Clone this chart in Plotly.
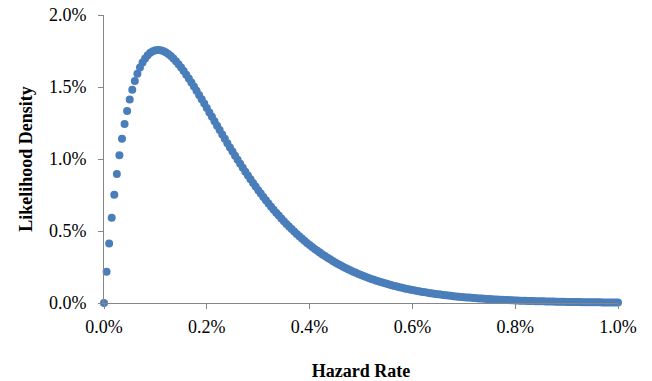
import plotly.graph_objects as go

# Hazard rate (%), 0.005% steps
hazard_rate = [
    0.000, 0.005, 0.010, 0.015, 0.020, 0.025, 0.030, 0.035, 0.040, 0.045,
    0.050, 0.055, 0.060, 0.065, 0.070, 0.075, 0.080, 0.085, 0.090, 0.095,
    0.100, 0.105, 0.110, 0.115, 0.120, 0.125, 0.130, 0.135, 0.140, 0.145,
    0.150, 0.155, 0.160, 0.165, 0.170, 0.175, 0.180, 0.185, 0.190, 0.195,
    0.200, 0.205, 0.210, 0.215, 0.220, 0.225, 0.230, 0.235, 0.240, 0.245,
    0.250, 0.255, 0.260, 0.265, 0.270, 0.275, 0.280, 0.285, 0.290, 0.295,
    0.300, 0.305, 0.310, 0.315, 0.320, 0.325, 0.330, 0.335, 0.340, 0.345,
    0.350, 0.355, 0.360, 0.365, 0.370, 0.375, 0.380, 0.385, 0.390, 0.395,
    0.400, 0.405, 0.410, 0.415, 0.420, 0.425, 0.430, 0.435, 0.440, 0.445,
    0.450, 0.455, 0.460, 0.465, 0.470, 0.475, 0.480, 0.485, 0.490, 0.495,
    0.500, 0.505, 0.510, 0.515, 0.520, 0.525, 0.530, 0.535, 0.540, 0.545,
    0.550, 0.555, 0.560, 0.565, 0.570, 0.575, 0.580, 0.585, 0.590, 0.595,
    0.600, 0.605, 0.610, 0.615, 0.620, 0.625, 0.630, 0.635, 0.640, 0.645,
    0.650, 0.655, 0.660, 0.665, 0.670, 0.675, 0.680, 0.685, 0.690, 0.695,
    0.700, 0.705, 0.710, 0.715, 0.720, 0.725, 0.730, 0.735, 0.740, 0.745,
    0.750, 0.755, 0.760, 0.765, 0.770, 0.775, 0.780, 0.785, 0.790, 0.795,
    0.800, 0.805, 0.810, 0.815, 0.820, 0.825, 0.830, 0.835, 0.840, 0.845,
    0.850, 0.855, 0.860, 0.865, 0.870, 0.875, 0.880, 0.885, 0.890, 0.895,
    0.900, 0.905, 0.910, 0.915, 0.920, 0.925, 0.930, 0.935, 0.940, 0.945,
    0.950, 0.955, 0.960, 0.965, 0.970, 0.975, 0.980, 0.985, 0.990, 0.995,
    1.000,
]

# Likelihood density (%)
likelihood_density = [
    0.0000, 0.2169, 0.4135, 0.5915, 0.7519, 0.8962, 1.0254, 1.1407, 1.2431, 1.3334,
    1.4127, 1.4817, 1.5412, 1.5920, 1.6347, 1.6700, 1.6985, 1.7208, 1.7373, 1.7485,
    1.7549, 1.7570, 1.7551, 1.7495, 1.7407, 1.7289, 1.7145, 1.6976, 1.6786, 1.6577,
    1.6351, 1.6111, 1.5857, 1.5592, 1.5317, 1.5035, 1.4745, 1.4450, 1.4150, 1.3847,
    1.3542, 1.3235, 1.2927, 1.2620, 1.2313, 1.2007, 1.1703, 1.1401, 1.1102, 1.0807,
    1.0514, 1.0226, 0.9942, 0.9662, 0.9386, 0.9115, 0.8849, 0.8589, 0.8333, 0.8082,
    0.7837, 0.7597, 0.7363, 0.7133, 0.6910, 0.6691, 0.6478, 0.6271, 0.6068, 0.5871,
    0.5679, 0.5493, 0.5311, 0.5134, 0.4963, 0.4796, 0.4634, 0.4476, 0.4324, 0.4175,
    0.4032, 0.3892, 0.3757, 0.3626, 0.3499, 0.3376, 0.3257, 0.3142, 0.3030, 0.2922,
    0.2817, 0.2716, 0.2618, 0.2524, 0.2432, 0.2344, 0.2258, 0.2176, 0.2096, 0.2019,
    0.1944, 0.1873, 0.1803, 0.1736, 0.1672, 0.1609, 0.1549, 0.1491, 0.1435, 0.1381,
    0.1329, 0.1278, 0.1230, 0.1183, 0.1138, 0.1095, 0.1053, 0.1013, 0.0974, 0.0936,
    0.0900, 0.0866, 0.0832, 0.0800, 0.0769, 0.0739, 0.0710, 0.0683, 0.0656, 0.0630,
    0.0606, 0.0582, 0.0559, 0.0537, 0.0516, 0.0496, 0.0476, 0.0457, 0.0439, 0.0422,
    0.0405, 0.0389, 0.0374, 0.0359, 0.0345, 0.0331, 0.0318, 0.0305, 0.0293, 0.0281,
    0.0270, 0.0259, 0.0248, 0.0238, 0.0229, 0.0220, 0.0211, 0.0202, 0.0194, 0.0186,
    0.0179, 0.0171, 0.0164, 0.0158, 0.0151, 0.0145, 0.0139, 0.0134, 0.0128, 0.0123,
    0.0118, 0.0113, 0.0109, 0.0104, 0.0100, 0.0096, 0.0092, 0.0088, 0.0084, 0.0081,
    0.0078, 0.0074, 0.0071, 0.0068, 0.0066, 0.0063, 0.0060, 0.0058, 0.0055, 0.0053,
    0.0051, 0.0049, 0.0047, 0.0045, 0.0043, 0.0041, 0.0039, 0.0038, 0.0036, 0.0035,
    0.0033,
]

x_ticks = [0.0, 0.2, 0.4, 0.6, 0.8, 1.0]
x_tick_labels = ["0.0%", "0.2%", "0.4%", "0.6%", "0.8%", "1.0%"]
y_ticks = [0.0, 0.5, 1.0, 1.5, 2.0]
y_tick_labels = ["0.0%", "0.5%", "1.0%", "1.5%", "2.0%"]

serif = "Liberation Serif, Times New Roman, serif"
axis_color = "#868686"
label_font = dict(family=serif, size=18, color="black")

fig = go.Figure(
    go.Scatter(
        x=hazard_rate,
        y=likelihood_density,
        mode="markers",
        marker=dict(size=8, color="#4a7ebb", line=dict(width=0)),
        cliponaxis=False,
        showlegend=False,
    )
)

fig.update_layout(
    width=652,
    height=381,
    margin=dict(l=104, r=34, t=15, b=78),
    paper_bgcolor="white",
    plot_bgcolor="white",
    font=label_font,
    xaxis=dict(
        range=[0, 1.0],
        tickvals=x_ticks,
        ticktext=x_tick_labels,
        showgrid=False,
        zeroline=False,
        showline=True,
        linecolor=axis_color,
        linewidth=1,
        ticks="outside",
        ticklen=5,
        tickcolor=axis_color,
        tickfont=label_font,
        ticklabelstandoff=2,
        automargin=False,
        title=dict(text="<b>Hazard Rate</b>", font=label_font, standoff=29),
    ),
    yaxis=dict(
        range=[0, 2.0],
        tickvals=y_ticks,
        ticktext=y_tick_labels,
        showgrid=False,
        zeroline=False,
        showline=True,
        linecolor=axis_color,
        linewidth=1,
        ticks="outside",
        ticklen=5,
        tickcolor=axis_color,
        tickfont=label_font,
        ticklabelstandoff=8,
        automargin=False,
        title=dict(text="<b>Likelihood Density</b>", font=label_font, standoff=11),
    ),
)

fig.write_html("out.html")
